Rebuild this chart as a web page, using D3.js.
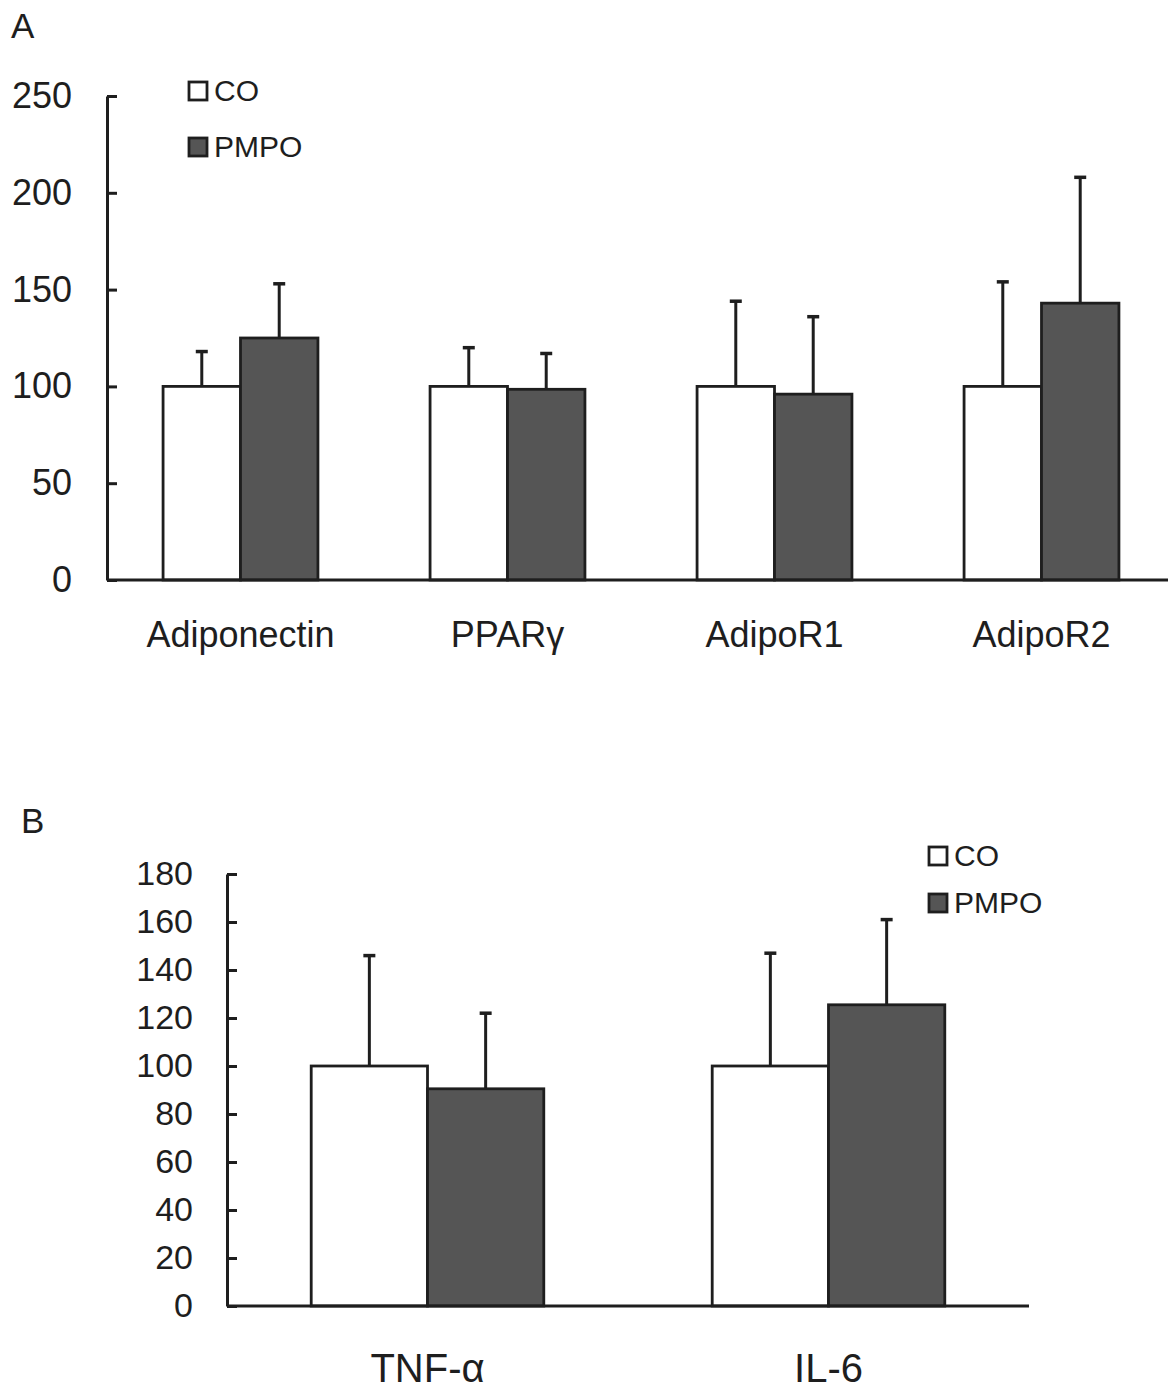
<!DOCTYPE html>
<html>
<head>
<meta charset="utf-8">
<script src="https://cdn.jsdelivr.net/npm/d3@7"></script>
<style>
  body { margin: 0; background: #fff; }
  svg { display: block; font-family: "Liberation Sans", Arial, sans-serif; }
</style>
</head>
<body>
<div id="chart"></div>
<script>
// panel A data (relative expression, % of CO)
var catsA = ["Adiponectin", "PPARγ", "AdipoR1", "AdipoR2"];
var coA = [100, 100, 100, 100];
var coSdA = [18, 20, 44, 54];
var pmpoA = [125, 98.5, 96, 143];
var pmpoSdA = [28, 18.5, 40, 65];
var ticksA = [0, 50, 100, 150, 200, 250];

// panel B data
var catsB = ["TNF-α", "IL-6"];
var coB = [100, 100];
var coSdB = [46, 47];
var pmpoB = [90.5, 125.5];
var pmpoSdB = [31.5, 35.5];
var ticksB = [0, 20, 40, 60, 80, 100, 120, 140, 160, 180];

var series = ["CO", "PMPO"];
var fills = { CO: "#ffffff", PMPO: "#555555" };
var ink = "#1e1e1e";

var width = 1168, height = 1389;

var svg = d3.select("#chart").append("svg")
  .attr("width", width)
  .attr("height", height);

function drawPanel(opt) {
  var g = svg.append("g");

  var y = d3.scaleLinear().domain([0, opt.yMax]).range([opt.y0, opt.y1]);
  var x = d3.scaleBand().domain(opt.cats).range([opt.x0, opt.x1])
    .paddingInner(0.42).paddingOuter(0.21);
  var xs = d3.scaleBand().domain(series).range([0, x.bandwidth()]);

  // y axis, ticks pointing into the plot
  var yAxis = g.append("g")
    .attr("transform", "translate(" + opt.x0 + ",0)")
    .call(d3.axisLeft(y).tickValues(opt.ticks).tickSizeInner(-10).tickSizeOuter(0)
      .tickPadding(opt.tickPad));
  yAxis.select(".domain").attr("stroke", ink).attr("stroke-width", 3);
  yAxis.selectAll(".tick line").attr("stroke", ink).attr("stroke-width", 3);
  yAxis.selectAll(".tick text")
    .attr("fill", ink)
    .style("font-size", opt.tickFont + "px");

  var rows = [];
  opt.cats.forEach(function(c, i) {
    rows.push({ cat: c, s: "CO", v: opt.co[i], sd: opt.coSd[i] });
    rows.push({ cat: c, s: "PMPO", v: opt.pmpo[i], sd: opt.pmpoSd[i] });
  });

  // error bars (upper only)
  var eb = g.selectAll(".err").data(rows).enter().append("g").attr("class", "err");
  eb.append("line")
    .attr("x1", function(d) { return x(d.cat) + xs(d.s) + xs.bandwidth() / 2; })
    .attr("x2", function(d) { return x(d.cat) + xs(d.s) + xs.bandwidth() / 2; })
    .attr("y1", function(d) { return y(d.v); })
    .attr("y2", function(d) { return y(d.v + d.sd); })
    .attr("stroke", ink).attr("stroke-width", 3);
  eb.append("line")
    .attr("x1", function(d) { return x(d.cat) + xs(d.s) + xs.bandwidth() / 2 - 6; })
    .attr("x2", function(d) { return x(d.cat) + xs(d.s) + xs.bandwidth() / 2 + 6; })
    .attr("y1", function(d) { return y(d.v + d.sd); })
    .attr("y2", function(d) { return y(d.v + d.sd); })
    .attr("stroke", ink).attr("stroke-width", 3.5);

  g.selectAll(".bar").data(rows).enter().append("rect")
    .attr("class", "bar")
    .attr("x", function(d) { return x(d.cat) + xs(d.s); })
    .attr("width", xs.bandwidth())
    .attr("y", function(d) { return y(d.v); })
    .attr("height", function(d) { return y(0) - y(d.v); })
    .attr("fill", function(d) { return fills[d.s]; })
    .attr("stroke", ink).attr("stroke-width", 2.8);

  // x axis line
  g.append("line")
    .attr("x1", opt.x0).attr("x2", opt.xLineEnd)
    .attr("y1", y(0)).attr("y2", y(0))
    .attr("stroke", ink).attr("stroke-width", 3);

  g.selectAll(".cat").data(opt.cats).enter().append("text")
    .attr("x", function(d) { return x(d) + x.bandwidth() / 2; })
    .attr("y", opt.labelY)
    .attr("text-anchor", "middle")
    .attr("fill", ink)
    .style("font-size", opt.labelFont + "px")
    .text(function(d) { return d; });

  // legend
  var lg = g.append("g").attr("transform", "translate(" + opt.legX + "," + opt.legY + ")");
  series.forEach(function(s, i) {
    lg.append("rect")
      .attr("x", 0).attr("y", i * opt.legStep)
      .attr("width", 18).attr("height", 18)
      .attr("fill", fills[s]).attr("stroke", ink).attr("stroke-width", 2.8);
    lg.append("text")
      .attr("x", 25).attr("y", i * opt.legStep + 19)
      .attr("fill", ink)
      .style("font-size", "30px")
      .text(s);
  });

  svg.append("text")
    .attr("x", opt.letterX).attr("y", opt.letterY)
    .attr("fill", ink)
    .style("font-size", "35px")
    .text(opt.letter);
}

drawPanel({
  cats: catsA, co: coA, coSd: coSdA, pmpo: pmpoA, pmpoSd: pmpoSdA,
  ticks: ticksA, yMax: 250, y0: 580, y1: 96,
  x0: 107, x1: 1175, xLineEnd: 1175,
  tickPad: 35, tickFont: 36, labelY: 647, labelFont: 36,
  legX: 189, legY: 82, legStep: 56,
  letter: "A", letterX: 11, letterY: 38
});

drawPanel({
  cats: catsB, co: coB, coSd: coSdB, pmpo: pmpoB, pmpoSd: pmpoSdB,
  ticks: ticksB, yMax: 180, y0: 1306, y1: 874,
  x0: 227, x1: 1029, xLineEnd: 1029,
  tickPad: 34, tickFont: 34, labelY: 1382, labelFont: 40,
  legX: 929, legY: 847, legStep: 47,
  letter: "B", letterX: 21, letterY: 833
});
</script>
</body>
</html>
